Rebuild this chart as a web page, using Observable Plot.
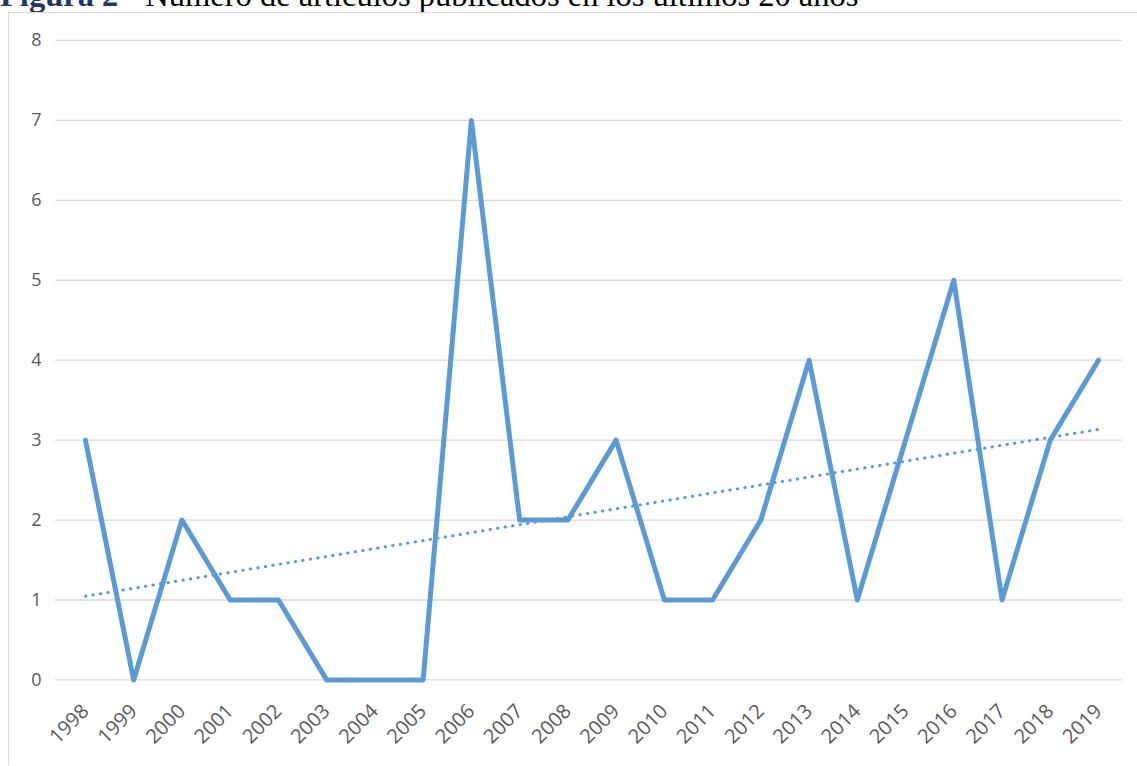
<!DOCTYPE html>
<html>
<head>
<meta charset="utf-8">
<script src="https://cdn.jsdelivr.net/npm/d3@7"></script>
<script src="https://cdn.jsdelivr.net/npm/@observablehq/plot@0.6"></script>
<style>
  html, body { margin: 0; padding: 0; background: #fff; }
  #title { position: relative; height: 12px; overflow: hidden; }
  #title span.t { position: absolute; left: 0; top: -23px; white-space: nowrap;
    font-family: "Liberation Serif", "Times New Roman", serif; font-size: 32.5px; color: #000; }
  #title b { color: #1f3864; }
  #chart { margin-left: 8px; border-left: 1px solid #d9d9d9; border-top: 1px solid #d9d9d9; }
  #chart svg { display: block; }
</style>
</head>
<body>
<div id="title"><span class="t"><b>Figura 2</b> - Número de artículos publicados en los últimos 20 años</span></div>
<div id="chart"></div>
<script>
const years = [1998,1999,2000,2001,2002,2003,2004,2005,2006,2007,2008,2009,2010,2011,2012,2013,2014,2015,2016,2017,2018,2019];
const articles = [3,0,2,1,1,0,0,0,7,2,2,3,1,1,2,4,1,3,5,1,3,4];
const yTicks = [0,1,2,3,4,5,6,7,8];

const data = years.map((y, i) => ({year: y, n: articles[i]}));

const chart = Plot.plot({
  width: 1129,
  height: 753,
  marginTop: 27,
  marginBottom: 86,
  marginLeft: 46,
  marginRight: 15,
  style: {fontFamily: "'Open Sans', sans-serif", fontSize: "18px", color: "#595959", background: "#fff"},
  x: {type: "linear", domain: [1998, 2019], insetLeft: 30, insetRight: 24, label: null},
  y: {domain: [0, 8], label: null},
  marks: [
    Plot.ruleY(yTicks, {stroke: "#d9d9d9", strokeWidth: 1.3}),
    Plot.axisY({ticks: yTicks, tickSize: 0, tickPadding: 14, fill: "#595959", fontSize: 18, label: null}),
    Plot.axisX({ticks: years, tickFormat: d => String(d), tickSize: 0, tickRotate: -45, tickPadding: 28, fill: "#595959", fontSize: 20, label: null}),
    Plot.linearRegressionY(data, {x: "year", y: "n", ci: 0, stroke: "#5b9bd5", strokeWidth: 3, strokeLinecap: "round", strokeDasharray: "0.4,7.2"}),
    Plot.line(data, {x: "year", y: "n", stroke: "#5b9bd5", strokeWidth: 5, strokeLinejoin: "round"})
  ]
});
document.getElementById("chart").appendChild(chart);
</script>
</body>
</html>
